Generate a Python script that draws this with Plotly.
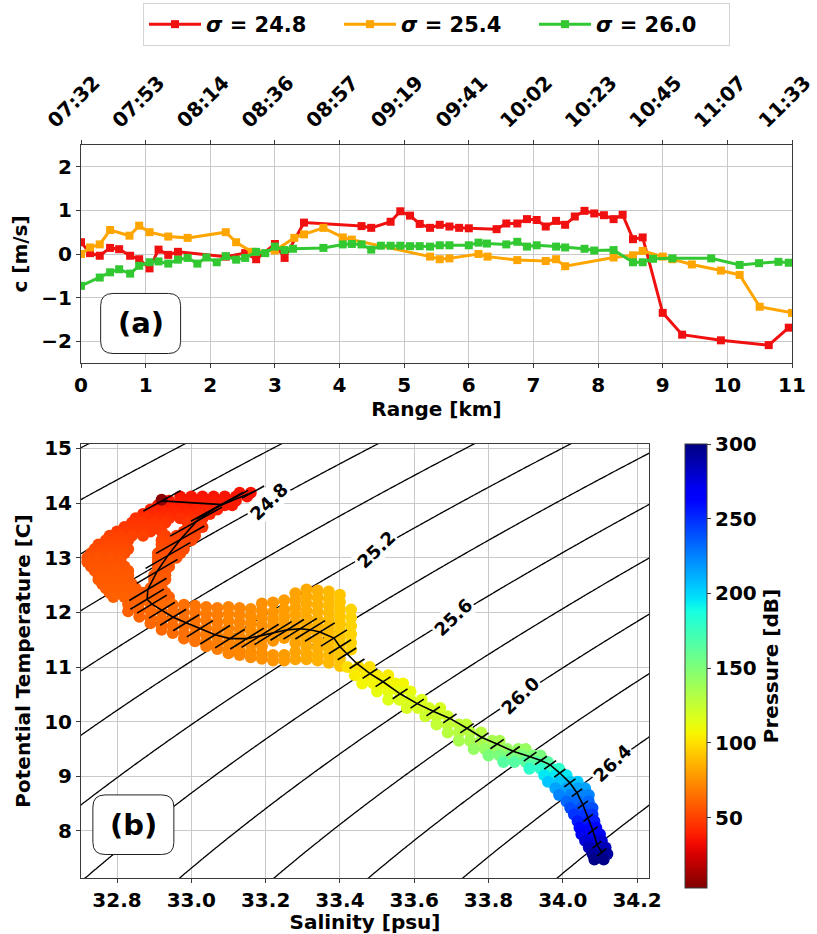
import numpy as np
import plotly.graph_objects as go

# ---------------- panel (a): phase speed along the section ----------------
range_red = [0, 0.14, 0.29, 0.45, 0.59, 0.76, 0.9, 1.06, 1.2, 1.35, 1.5, 2.24, 2.54, 2.71,
             3.0, 3.15, 3.45, 4.34, 4.49, 4.79, 4.94, 5.09, 5.24, 5.4, 5.55, 5.7, 5.85, 6.0,
             6.43, 6.58, 6.75, 6.9, 7.05, 7.19, 7.35, 7.49, 7.64, 7.79, 7.94, 8.09, 8.24,
             8.38, 8.54, 8.69, 9.0, 9.3, 9.9, 10.64, 10.95]
c_red = [0.27, 0.02, -0.04, 0.14, 0.11, -0.04, -0.12, -0.33, 0.10, -0.02, 0.05, -0.06, 0.02, -0.12,
         0.23, -0.09, 0.72, 0.64, 0.60, 0.74, 0.98, 0.88, 0.69, 0.60, 0.67, 0.63, 0.60, 0.59,
         0.57, 0.70, 0.70, 0.80, 0.78, 0.63, 0.76, 0.67, 0.86, 0.99, 0.93, 0.89, 0.80,
         0.90, 0.34, 0.38, -1.35, -1.85, -1.98, -2.09, -1.69]

range_orange = [0, 0.14, 0.29, 0.45, 0.75, 0.9, 1.06, 1.35, 1.65, 2.24, 2.4, 2.64, 3.0, 3.3,
                3.45, 3.75, 4.05, 4.19, 5.4, 5.55, 5.7, 6.15, 6.29, 6.75, 7.19, 7.35, 7.49,
                8.24, 8.54, 8.69, 9.0, 9.15, 9.45, 9.9, 10.19, 10.5, 11.0]
c_orange = [0.0, 0.15, 0.22, 0.55, 0.42, 0.65, 0.50, 0.40, 0.37, 0.50, 0.27, 0.05, 0.08, 0.37,
            0.45, 0.60, 0.38, 0.33, -0.06, -0.12, -0.10, 0.0, -0.06, -0.14, -0.16, -0.12, -0.28,
            -0.08, -0.03, 0.07, -0.06, -0.12, -0.24, -0.38, -0.48, -1.21, -1.35]

range_green = [0, 0.29, 0.45, 0.59, 0.76, 0.9, 1.06, 1.2, 1.35, 1.5, 1.65, 1.8, 1.94, 2.1,
               2.24, 2.4, 2.54, 2.71, 2.85, 3.0, 3.15, 3.28, 3.75, 4.05, 4.19, 4.34, 4.49,
               4.64, 4.79, 4.94, 5.09, 5.24, 5.4, 5.55, 5.7, 6.0, 6.15, 6.28, 6.58, 6.75,
               6.9, 7.05, 7.35, 7.49, 7.79, 7.94, 8.24, 8.54, 8.69, 8.85, 9.15, 9.75, 10.19,
               10.49, 10.79, 10.95]
c_green = [-0.73, -0.54, -0.42, -0.35, -0.45, -0.27, -0.19, -0.17, -0.22, -0.13, -0.09, -0.22,
           -0.08, -0.19, -0.05, -0.13, -0.09, 0.05, 0.02, 0.17, 0.09, 0.12, 0.14, 0.22, 0.23,
           0.22, 0.10, 0.19, 0.19, 0.19, 0.18, 0.18, 0.17, 0.20, 0.20, 0.20, 0.26, 0.24, 0.22,
           0.28, 0.17, 0.20, 0.17, 0.15, 0.12, 0.08, 0.09, -0.19, -0.19, -0.11, -0.10, -0.10,
           -0.25, -0.21, -0.18, -0.20]

km_ticks = list(range(12))
time_labels = ["07:32", "07:53", "08:14", "08:36", "08:57", "09:19",
               "09:41", "10:02", "10:23", "10:45", "11:07", "11:33"]

# ---------------- panel (b): T-S samples ----------------
# near-surface limb: (temperature, pressure, [salinities])
upper_rows = [
    (14.19, 36, [33.13, 33.16]),
    (14.12, 36, [32.97, 33.00, 33.03, 33.06, 33.09, 33.12, 33.15]),
    (14.04, 37, [32.94, 32.97, 33.00, 33.03, 33.06, 33.09, 33.12]),
    (13.96, 38, [32.91, 32.94, 32.97, 33.00, 33.03, 33.06, 33.09, 33.11]),
    (13.88, 40, [32.89, 32.92, 32.95, 32.98, 33.01, 33.04, 33.07]),
    (13.80, 42, [32.87, 32.90, 32.93, 32.96, 32.99, 33.02, 33.05]),
    (13.72, 44, [32.85, 32.88, 32.91, 32.94, 32.97, 33.00, 33.03]),
    (13.64, 46, [32.84, 32.87, 32.90, 32.93, 32.99, 33.02]),
    (13.56, 47, [32.82, 32.85, 32.88, 32.91, 33.00, 33.03]),
    (13.48, 48, [32.80, 32.83, 32.86, 32.89, 32.92, 32.98, 33.01]),
    (13.40, 50, [32.78, 32.81, 32.84, 32.87, 32.93, 32.96, 32.99, 33.01]),
    (13.32, 51, [32.77, 32.80, 32.83, 32.92, 32.95, 32.98, 33.00]),
    (13.24, 52, [32.75, 32.78, 32.81, 32.92, 32.95, 32.98]),
    (13.16, 53, [32.74, 32.77, 32.80, 32.83, 32.92, 32.95, 32.98]),
    (13.08, 54, [32.73, 32.76, 32.79, 32.82, 32.91, 32.94, 32.97]),
    (13.00, 55, [32.72, 32.75, 32.78, 32.81, 32.91, 32.94, 32.96]),
    (12.92, 56, [32.72, 32.75, 32.78, 32.81, 32.91, 32.94]),
    (12.84, 56, [32.73, 32.76, 32.79, 32.82, 32.91, 32.94]),
    (12.76, 57, [32.74, 32.77, 32.80, 32.83, 32.91, 32.93]),
    (12.68, 57, [32.75, 32.78, 32.81, 32.83, 32.90, 32.93]),
    (12.60, 58, [32.75, 32.78, 32.81, 32.83, 32.90, 32.93]),
    (12.52, 58, [32.76, 32.79, 32.82, 32.84, 32.90, 32.92]),
    (12.44, 59, [32.77, 32.80, 32.83, 32.85, 32.89, 32.92]),
    (12.36, 59, [32.78, 32.81, 32.84, 32.87, 32.90, 32.93]),
    (12.28, 60, [32.79, 32.82, 32.85, 32.88, 32.91, 32.94]),
]
# subsurface limb: (salinity, pressure, [temperatures])
arm_cols = [
    (32.83, 60, [12.15, 12.02]),
    (32.86, 61, [12.17, 12.04, 11.92]),
    (32.89, 62, [12.16, 12.03, 11.90, 11.80]),
    (32.92, 63, [12.14, 12.01, 11.88, 11.76, 11.68]),
    (32.95, 64, [12.14, 12.01, 11.88, 11.75, 11.62]),
    (32.98, 65, [12.14, 12.01, 11.88, 11.75, 11.62, 11.52]),
    (33.01, 66, [12.12, 11.99, 11.86, 11.73, 11.60, 11.47]),
    (33.04, 68, [12.10, 11.97, 11.84, 11.71, 11.58, 11.45, 11.38]),
    (33.07, 69, [12.08, 11.95, 11.82, 11.69, 11.56, 11.43, 11.33]),
    (33.10, 71, [12.10, 11.97, 11.84, 11.71, 11.58, 11.45, 11.32, 11.25]),
    (33.13, 72, [12.08, 11.95, 11.82, 11.69, 11.56, 11.43, 11.30, 11.22]),
    (33.16, 74, [12.06, 11.93, 11.80, 11.67, 11.54, 11.41, 11.28, 11.18]),
    (33.19, 75, [12.16, 12.03, 11.90, 11.77, 11.64, 11.51, 11.38, 11.25, 11.15]),
    (33.22, 77, [12.18, 12.00, 11.87, 11.74, 11.61, 11.48, 11.22, 11.12]),
    (33.25, 79, [12.22, 12.05, 11.92, 11.79, 11.66, 11.53, 11.22, 11.12]),
    (33.28, 81, [12.35, 12.22, 12.09, 11.96, 11.83, 11.70, 11.57, 11.44, 11.28, 11.14]),
    (33.31, 83, [12.42, 12.29, 12.16, 12.03, 11.90, 11.77, 11.64, 11.51, 11.38, 11.25, 11.14]),
    (33.34, 85, [12.40, 12.27, 12.14, 12.01, 11.88, 11.75, 11.62, 11.49, 11.36, 11.23, 11.12]),
    (33.37, 88, [12.38, 12.25, 12.12, 11.99, 11.86, 11.73, 11.60, 11.47, 11.34, 11.21, 11.08]),
    (33.40, 92, [12.32, 12.19, 12.06, 11.93, 11.80, 11.67, 11.54, 11.41, 11.28, 11.15, 11.02]),
    (33.43, 96, [12.05, 11.90, 11.75, 11.60, 11.45, 11.32]),
]
# thermocline and deep water: (temperature, pressure, [salinities])
tail_rows = [
    (11.00, 100, [33.42, 33.45, 33.48]),
    (10.85, 104, [33.44, 33.47, 33.50, 33.53]),
    (10.70, 108, [33.46, 33.49, 33.52, 33.55, 33.57]),
    (10.55, 112, [33.50, 33.53, 33.56, 33.59]),
    (10.40, 116, [33.53, 33.56, 33.59, 33.62]),
    (10.25, 119, [33.58, 33.61, 33.64, 33.67]),
    (10.10, 122, [33.63, 33.66, 33.69]),
    (9.95, 126, [33.66, 33.69, 33.72, 33.74]),
    (9.80, 130, [33.69, 33.72, 33.75, 33.78]),
    (9.65, 135, [33.72, 33.75, 33.78, 33.81, 33.83]),
    (9.50, 142, [33.76, 33.79, 33.82, 33.85, 33.88, 33.90]),
    (9.38, 152, [33.80, 33.83, 33.86, 33.89, 33.92, 33.94]),
    (9.26, 165, [33.84, 33.87, 33.90, 33.93, 33.96]),
    (9.14, 180, [33.91, 33.94, 33.97, 33.99]),
    (9.02, 195, [33.95, 33.98, 34.01]),
    (8.90, 205, [33.96, 33.99, 34.02, 34.04]),
    (8.78, 215, [33.98, 34.01, 34.04, 34.06]),
    (8.66, 225, [33.99, 34.02, 34.05, 34.07]),
    (8.54, 233, [34.01, 34.04, 34.07]),
    (8.42, 240, [34.02, 34.05, 34.08]),
    (8.30, 248, [34.03, 34.06, 34.08]),
    (8.18, 255, [34.04, 34.07, 34.085]),
    (8.06, 262, [34.045, 34.075, 34.09]),
    (7.94, 270, [34.05, 34.08, 34.10]),
    (7.82, 278, [34.06, 34.09, 34.105]),
    (7.70, 285, [34.07, 34.10, 34.115]),
    (7.58, 292, [34.08, 34.105, 34.12]),
    (7.48, 298, [34.085, 34.11]),
]
# single warmest, freshest sample
surface_sample = (32.92, 14.06, 6)

# mean profile (salinity, temperature) and half-spread in salinity along isopycnals
profile_sal = [32.921, 33.083, 33.166, 33.069, 33.013, 32.970, 32.937, 32.908, 32.883, 32.881,
               32.894, 32.921, 32.951, 32.986, 33.023, 33.064, 33.104, 33.150, 33.185, 33.220,
               33.258, 33.293, 33.320, 33.346, 33.384, 33.400, 33.419, 33.446, 33.481, 33.516,
               33.562, 33.608, 33.651, 33.696, 33.742, 33.782, 33.823, 33.866, 33.912, 33.941,
               33.966, 33.992, 34.019, 34.038, 34.054, 34.068, 34.081, 34.092, 34.105]
profile_temp = [14.04, 13.97, 14.20, 13.93, 13.66, 13.33, 13.04, 12.75, 12.42, 12.24,
                12.15, 12.04, 11.91, 11.81, 11.70, 11.59, 11.52, 11.52, 11.57, 11.62,
                11.68, 11.70, 11.68, 11.64, 11.53, 11.37, 11.24, 11.06, 10.88, 10.73,
                10.51, 10.33, 10.19, 10.06, 9.88, 9.71, 9.59, 9.46, 9.36, 9.29,
                9.21, 9.06, 8.88, 8.70, 8.48, 8.24, 8.01, 7.75, 7.61]
profile_spread = [0.05, 0.07, 0.03, 0.07, 0.07, 0.065, 0.06, 0.055, 0.05, 0.045,
                  0.04, 0.035, 0.035, 0.035, 0.035, 0.04, 0.04, 0.045, 0.05, 0.05,
                  0.045, 0.045, 0.04, 0.04, 0.035, 0.03, 0.025, 0.02, 0.02, 0.02,
                  0.02, 0.018, 0.018, 0.018, 0.018, 0.018, 0.018, 0.018, 0.017, 0.016,
                  0.016, 0.015, 0.015, 0.014, 0.014, 0.013, 0.013, 0.012, 0.012]

# labelled isopycnals and the temperature where each label sits
label_levels = [24.8, 25.2, 25.6, 26.0, 26.4]
label_temps = [14.02, 13.15, 11.91, 10.48, 9.24]

sal_ticks = [32.8, 33.0, 33.2, 33.4, 33.6, 33.8, 34.0, 34.2]
temp_ticks = [8, 9, 10, 11, 12, 13, 14, 15]
pres_ticks = [50, 100, 150, 200, 250, 300]

FONT = "DejaVu Sans"
AXIS_COL = "#3a3a3a"
GRID_COL = "#c9c9c9"
SAL_RANGE = [32.703, 34.232]
TEMP_RANGE = [7.14, 15.08]


def sigma0(S, T):
    """Potential density anomaly (EOS-80, surface pressure) in kg/m^3."""
    rw = (999.842594 + 6.793952e-2 * T - 9.095290e-3 * T**2 + 1.001685e-4 * T**3
          - 1.120083e-6 * T**4 + 6.536332e-9 * T**5)
    a = 8.24493e-1 - 4.0899e-3 * T + 7.6438e-5 * T**2 - 8.2467e-7 * T**3 + 5.3875e-9 * T**4
    b = -5.72466e-3 + 1.0227e-4 * T - 1.6546e-6 * T**2
    c = 4.8314e-4
    return rw + a * S + b * S**1.5 + c * S**2 - 1000.0


def isopycnal_slope(s, t, eps=1e-3):
    ds = (sigma0(s + eps, t) - sigma0(s - eps, t)) / (2 * eps)
    dt = (sigma0(s, t + eps) - sigma0(s, t - eps)) / (2 * eps)
    return -ds / dt  # dT/dS along an isopycnal


def salinity_on(level, t):
    lo, hi = 30.0, 37.0
    for _ in range(60):
        mid = 0.5 * (lo + hi)
        if sigma0(mid, t) < level:
            lo = mid
        else:
            hi = mid
    return 0.5 * (lo + hi)


def jet(x):
    r = np.interp(x, [0, 0.35, 0.66, 0.89, 1], [0, 0, 1, 1, 0.5])
    g = np.interp(x, [0, 0.125, 0.375, 0.64, 0.91, 1], [0, 0, 1, 1, 0, 0])
    b = np.interp(x, [0, 0.11, 0.34, 0.65, 1], [0.5, 1, 1, 0, 0])
    return r, g, b


def jet_r_scale(n=41):
    out = []
    for s in np.linspace(0, 1, n):
        r, g, b = jet(1 - s)
        out.append([float(s), f"rgb({int(round(r*255))},{int(round(g*255))},{int(round(b*255))})"])
    return out


def rounded_box(x0, x1, y0, y1, rx, ry):
    return (f"M {x0+rx},{y0} L {x1-rx},{y0} Q {x1},{y0} {x1},{y0+ry} "
            f"L {x1},{y1-ry} Q {x1},{y1} {x1-rx},{y1} L {x0+rx},{y1} "
            f"Q {x0},{y1} {x0},{y1-ry} L {x0},{y0+ry} Q {x0},{y0} {x0+rx},{y0} Z")


fig = go.Figure()

# ---- panel (a) traces ----
for xs, ys, col, lab in [(range_red, c_red, "#f01010", "24.8"),
                         (range_orange, c_orange, "#ffa500", "25.4"),
                         (range_green, c_green, "#32c832", "26.0")]:
    fig.add_trace(go.Scatter(
        x=xs, y=ys, mode="lines+markers", xaxis="x", yaxis="y",
        line=dict(color=col, width=3),
        marker=dict(symbol="square", size=8, color=col),
        name=f"<b><i>σ</i> = {lab}</b>", hoverinfo="skip"))

# invisible trace that carries the time axis on top
fig.add_trace(go.Scatter(x=[0, 11], y=[0, 0], xaxis="x3", yaxis="y", mode="markers",
                         marker=dict(opacity=0), showlegend=False, hoverinfo="skip"))

# ---- panel (b): isopycnals every 0.2 kg/m^3 ----
S_grid = np.linspace(32.6, 34.35, 220)
T_grid = np.linspace(7.0, 15.2, 220)
Z = sigma0(S_grid[None, :], T_grid[:, None])
fig.add_trace(go.Contour(
    x=S_grid, y=T_grid, z=Z, xaxis="x2", yaxis="y2", showscale=False, hoverinfo="skip",
    contours=dict(coloring="none", start=23.4, end=27.4, size=0.2, showlabels=False),
    line=dict(color="black", width=1.3), showlegend=False))

# ---- panel (b): CTD samples coloured by pressure ----
cloud_S, cloud_T, cloud_P = [], [], []
for t, p, sals in upper_rows:
    for s in sals:
        cloud_S.append(s); cloud_T.append(t); cloud_P.append(p)
for s, p, temps in arm_cols:
    for t in temps:
        cloud_S.append(s); cloud_T.append(t); cloud_P.append(p)
for t, p, sals in tail_rows:
    for s in sals:
        cloud_S.append(s); cloud_T.append(t); cloud_P.append(p)
cloud_S.append(surface_sample[0]); cloud_T.append(surface_sample[1]); cloud_P.append(surface_sample[2])

tickfont = dict(family=FONT, size=20, color="black", weight="bold")
fig.add_trace(go.Scatter(
    x=cloud_S, y=cloud_T, mode="markers", xaxis="x2", yaxis="y2", showlegend=False,
    hoverinfo="skip",
    marker=dict(size=12, color=cloud_P, colorscale=jet_r_scale(), cmin=3, cmax=300,
                line=dict(width=0),
                colorbar=dict(x=(685 - 81) / 711, xanchor="left", xpad=0,
                              y=(878 - 888) / 733, yanchor="bottom", ypad=0,
                              len=444, lenmode="pixels", thickness=22,
                              outlinewidth=1, outlinecolor=AXIS_COL,
                              tickvals=pres_ticks, ticks="outside", ticklen=4,
                              tickcolor=AXIS_COL, tickfont=tickfont,
                              title=dict(text="Pressure [dB]", side="right", font=tickfont)))))

# ---- panel (b): mean profile with along-isopycnal spread bars ----
fig.add_trace(go.Scatter(x=profile_sal, y=profile_temp, mode="lines", xaxis="x2", yaxis="y2",
                         line=dict(color="black", width=1.6), showlegend=False, hoverinfo="skip"))

bar_x, bar_y = [], []
for s, t, d in zip(profile_sal, profile_temp, profile_spread):
    k = isopycnal_slope(s, t)
    bar_x += [s - d, s + d, None]
    bar_y += [t - k * d, t + k * d, None]
fig.add_trace(go.Scatter(x=bar_x, y=bar_y, mode="lines", xaxis="x2", yaxis="y2",
                         line=dict(color="black", width=1.6), showlegend=False,
                         hoverinfo="skip", connectgaps=False))

# ---- isopycnal labels, placed on their own contour ----
annotations = []
for lvl, t in zip(label_levels, label_temps):
    s = salinity_on(lvl, t)
    annotations.append(dict(
        x=s, y=t, xref="x2", yref="y2", text=f"<b>{lvl:.1f}</b>", showarrow=False,
        textangle=-44, bgcolor="white", borderpad=1,
        font=dict(family=FONT, size=18, color="black")))

# ---- panel labels in rounded boxes ----
shapes = [
    dict(type="path", xref="x", yref="y", layer="above",
         path=rounded_box(0.304, 1.541, -2.282, -0.905, 0.19, 0.28),
         line=dict(color="#222222", width=1), fillcolor="white"),
    dict(type="path", xref="x2", yref="y2", layer="above",
         path=rounded_box(32.735, 32.953, 7.57, 8.66, 0.033, 0.22),
         line=dict(color="#222222", width=1), fillcolor="white"),
]
annotations += [
    dict(x=0.922, y=-1.593, xref="x", yref="y", text="<b>(a)</b>", showarrow=False,
         font=dict(family=FONT, size=29, color="black")),
    dict(x=32.844, y=8.115, xref="x2", yref="y2", text="<b>(b)</b>", showarrow=False,
         font=dict(family=FONT, size=29, color="black")),
]

axis_common = dict(showline=True, linecolor=AXIS_COL, linewidth=1, mirror=True,
                   ticks="outside", ticklen=4, tickwidth=1, tickcolor=AXIS_COL,
                   showgrid=True, gridcolor=GRID_COL, gridwidth=1, zeroline=False,
                   tickfont=tickfont)
title_font = dict(family=FONT, size=20, color="black", weight="bold")

fig.update_layout(
    width=817, height=934,
    margin=dict(l=81, r=25, t=145, b=56, autoexpand=False),
    paper_bgcolor="white", plot_bgcolor="white",
    font=dict(family=FONT, size=20, color="black", weight="bold"),
    xaxis=dict(domain=[0, 1], anchor="y", range=[0, 11], tickvals=km_ticks,
               title=dict(text="Range [km]", font=title_font, standoff=5), **axis_common),
    yaxis=dict(domain=[(878 - 363) / 733, 1], anchor="x", range=[-2.5, 2.5],
               tickvals=[-2, -1, 0, 1, 2],
               title=dict(text="c [m/s]", font=title_font, standoff=8), **axis_common),
    xaxis3=dict(overlaying="x", anchor="y", side="top", range=[0, 11], tickvals=km_ticks,
                ticktext=time_labels, tickangle=-45, ticks="outside", ticklen=4,
                tickcolor=AXIS_COL, showgrid=False, zeroline=False, showline=False,
                tickfont=tickfont, ticklabelshift=-32, ticklabeloverflow="allow"),
    xaxis2=dict(domain=[0, 568 / 711], anchor="y2", range=SAL_RANGE,
                tickvals=sal_ticks, tickformat=".1f",
                title=dict(text="Salinity [psu]", font=title_font, standoff=6), **axis_common),
    yaxis2=dict(domain=[0, (878 - 444) / 733], anchor="x2", range=TEMP_RANGE,
                tickvals=temp_ticks,
                title=dict(text="Potential Temperature [C]", font=title_font, standoff=8),
                **axis_common),
    legend=dict(orientation="h", x=0.5, xanchor="center", y=(878 - 3) / 733, yanchor="top",
                bordercolor="#d4d4d4", borderwidth=1, bgcolor="white",
                font=dict(family=FONT, size=21, color="black"),
                entrywidth=128, entrywidthmode="pixels", itemwidth=52),
    shapes=shapes,
    annotations=annotations,
)

fig.write_html("out.html")
